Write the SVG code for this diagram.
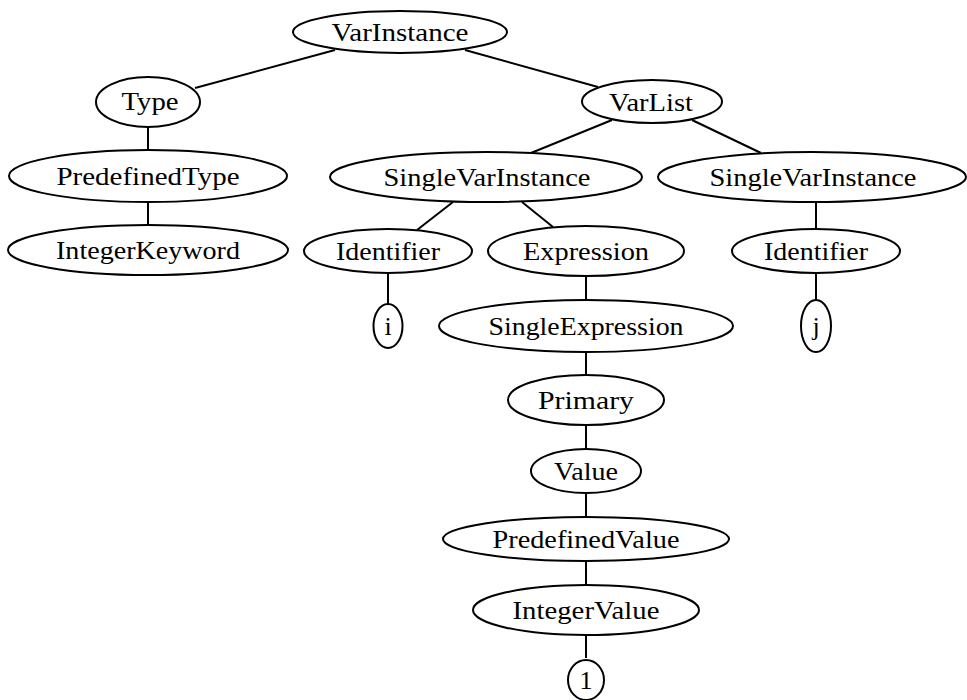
<svg xmlns="http://www.w3.org/2000/svg" width="967" height="700" viewBox="0 0 967 700">
<style>
ellipse{fill:#fff;stroke:#000;stroke-width:2}
line{stroke:#000;stroke-width:2}
text{font-family:"Liberation Serif","DejaVu Serif",serif;font-size:26px;text-anchor:middle;fill:#000}
</style>
<rect width="967" height="700" fill="#fff"/>
<g id="edges">
<line x1="335" y1="50" x2="195" y2="88"/>
<line x1="465" y1="50" x2="598" y2="87"/>
<line x1="148" y1="127" x2="148" y2="150"/>
<line x1="148" y1="202" x2="148" y2="225"/>
<line x1="612" y1="120" x2="531" y2="153"/>
<line x1="692" y1="120" x2="761" y2="153"/>
<line x1="453" y1="202" x2="417" y2="230"/>
<line x1="522" y1="202" x2="553" y2="227"/>
<line x1="388" y1="273" x2="388" y2="304"/>
<line x1="586" y1="276" x2="586" y2="300"/>
<line x1="816" y1="202" x2="816" y2="229"/>
<line x1="816" y1="274" x2="816" y2="300"/>
<line x1="586" y1="352" x2="586" y2="375"/>
<line x1="586" y1="425" x2="586" y2="449"/>
<line x1="586" y1="494" x2="586" y2="517"/>
<line x1="586" y1="561" x2="586" y2="585"/>
<line x1="586" y1="635" x2="586" y2="658"/>
</g>
<g id="n_varinstance"><ellipse cx="400" cy="32" rx="107" ry="21"/><text x="400" y="41" textLength="137" lengthAdjust="spacingAndGlyphs">VarInstance</text></g>
<g id="n_type"><ellipse cx="148" cy="102" rx="52" ry="25"/><text x="150" y="110" textLength="57" lengthAdjust="spacingAndGlyphs">Type</text></g>
<g id="n_predefinedtype"><ellipse cx="148" cy="176" rx="139" ry="26"/><text x="148" y="185" textLength="183" lengthAdjust="spacingAndGlyphs">PredefinedType</text></g>
<g id="n_integerkeyword"><ellipse cx="148" cy="250" rx="140" ry="25"/><text x="148" y="259" textLength="184" lengthAdjust="spacingAndGlyphs">IntegerKeyword</text></g>
<g id="n_varlist"><ellipse cx="652" cy="101.5" rx="70" ry="21.5"/><text x="651" y="111" textLength="84" lengthAdjust="spacingAndGlyphs">VarList</text></g>
<g id="n_svi1"><ellipse cx="486" cy="177" rx="156" ry="25"/><text x="487" y="186" textLength="207" lengthAdjust="spacingAndGlyphs">SingleVarInstance</text></g>
<g id="n_svi2"><ellipse cx="812" cy="177" rx="154" ry="25"/><text x="813" y="186" textLength="207" lengthAdjust="spacingAndGlyphs">SingleVarInstance</text></g>
<g id="n_identifier1"><ellipse cx="388" cy="251" rx="84" ry="22"/><text x="388" y="260" textLength="104" lengthAdjust="spacingAndGlyphs">Identifier</text></g>
<g id="n_expression"><ellipse cx="586" cy="251" rx="98" ry="25"/><text x="586" y="260" textLength="126" lengthAdjust="spacingAndGlyphs">Expression</text></g>
<g id="n_identifier2"><ellipse cx="816" cy="251" rx="84" ry="22"/><text x="816" y="260" textLength="104" lengthAdjust="spacingAndGlyphs">Identifier</text></g>
<g id="n_i"><ellipse cx="388" cy="326" rx="14.5" ry="22"/><text x="388" y="335">i</text></g>
<g id="n_singleexpression"><ellipse cx="586" cy="326" rx="147" ry="26"/><text x="586" y="335" textLength="195" lengthAdjust="spacingAndGlyphs">SingleExpression</text></g>
<g id="n_j"><ellipse cx="816" cy="326" rx="15" ry="26"/><text x="816" y="335">j</text></g>
<g id="n_primary"><ellipse cx="586" cy="400" rx="78" ry="25"/><text x="586" y="409" textLength="96" lengthAdjust="spacingAndGlyphs">Primary</text></g>
<g id="n_value"><ellipse cx="586" cy="471" rx="55" ry="22"/><text x="586" y="480" textLength="64" lengthAdjust="spacingAndGlyphs">Value</text></g>
<g id="n_predefinedvalue"><ellipse cx="586" cy="539" rx="143" ry="22"/><text x="586" y="548" textLength="187" lengthAdjust="spacingAndGlyphs">PredefinedValue</text></g>
<g id="n_integervalue"><ellipse cx="586" cy="610" rx="113" ry="25"/><text x="586" y="619" textLength="147" lengthAdjust="spacingAndGlyphs">IntegerValue</text></g>
<g id="n_one"><ellipse cx="586" cy="680" rx="18" ry="20"/><text x="586" y="689">1</text></g>
</svg>
